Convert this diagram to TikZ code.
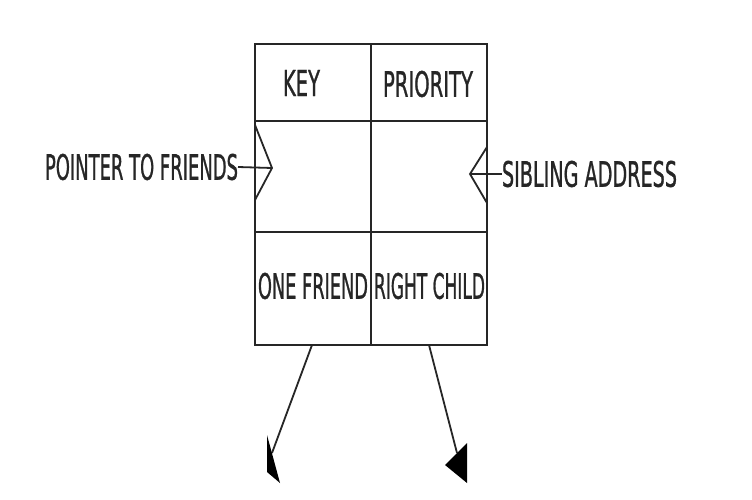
\documentclass[tikz,border=0pt]{standalone}
\usepackage{fontspec}
\setmainfont{DejaVu Sans}[FakeBold=1.2,UprightFeatures={FakeBold=1.2}]
\usepackage{graphicx}
\begin{document}
\begin{tikzpicture}[x=1pt,y=-1pt,
  cell/.style={draw=black!85,line width=2.2pt,minimum width=116pt,inner sep=0pt,outer sep=0pt},
  lbl/.style={inner sep=0pt,outer sep=0pt,text=black!85},
  conn/.style={draw=black!85,line width=1.8pt},
  head/.style={fill=black}]
\useasboundingbox (0,0) rectangle (752,500);
\fill[white] (0,0) rectangle (752,500);
% cells
\node[cell,minimum height=77pt]  (c11) at (313,82.5) {};
\node[cell,minimum height=77pt]  (c12) at (429,82.5) {};
\node[cell,minimum height=111pt] (c21) at (313,176.5) {};
\node[cell,minimum height=111pt] (c22) at (429,176.5) {};
\node[cell,minimum height=113pt] (c31) at (313,288.5) {};
\node[cell,minimum height=113pt] (c32) at (429,288.5) {};
% labels
\node[lbl] (key)  at (301.5,83) {\resizebox{37pt}{26pt}{KEY}};
\node[lbl] (pri)  at (428,84)   {\resizebox{90pt}{26pt}{PRIORITY}};
\node[lbl] (onef) at (313,286)  {\resizebox{110pt}{26pt}{ONE FRIEND}};
\node[lbl] (rch)  at (429.5,286){\resizebox{111pt}{26pt}{RIGHT CHILD}};
\node[lbl] (ptf)  at (141.5,167){\resizebox{193pt}{26pt}{POINTER TO FRIENDS}};
\node[lbl] (sib)  at (589.5,174){\resizebox{175pt}{26pt}{SIBLING ADDRESS}};
% coordinates
\coordinate (tipL) at (272,168);
\coordinate (tipR) at (470,174);
\coordinate (s1) at (312,345);
\coordinate (e1) at (272,453);
\coordinate (s2) at (429,345);
\coordinate (e2) at (457,453);
% side pointers
\draw[conn] (ptf.east) -- (tipL);
\draw[conn] (255,125) -- (tipL) -- (255,200);
\draw[conn] (sib.west) -- (tipR);
\draw[conn] (487,147) -- (tipR) -- (487,203);
% lower pointers
\draw[conn] (s1) -- (e1);
\fill[head] (267,435) -- (267,472) -- (280,483) -- cycle;
\draw[conn] (s2) -- (e2);
\fill[head] (467,443) -- (445,465) -- (467,483) -- cycle;
\end{tikzpicture}
\end{document}
